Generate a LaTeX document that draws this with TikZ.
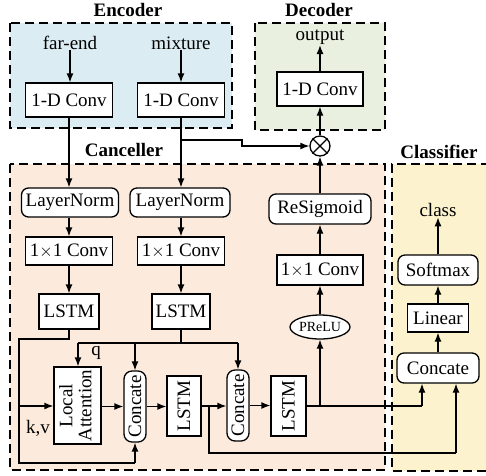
\documentclass[tikz,border=0pt]{standalone}
\usepackage{fontspec}
\setmainfont{Liberation Serif}
\usepackage{graphicx}
\usetikzlibrary{arrows.meta,shapes.geometric}
\definecolor{encfill}{RGB}{219,236,242}
\definecolor{decfill}{RGB}{233,240,223}
\definecolor{canfill}{RGB}{252,235,221}
\definecolor{clsfill}{RGB}{252,242,206}
\begin{document}
\begin{tikzpicture}[x=1pt,y=-1pt,
  font=\fontsize{19}{22}\selectfont, line width=1.3pt,
  >={Latex[length=9pt,width=7pt]},
  box/.style={draw,fill=white,inner sep=0pt,line width=1.3pt},
  rbox/.style={box,rounded corners=7pt},
  txt/.style={inner sep=0pt},
  ttl/.style={inner sep=0pt,font=\fontsize{19}{22}\selectfont\bfseries},
  region/.style={draw,line width=1.6pt,dash pattern=on 9pt off 5pt}]
\useasboundingbox (0,0) rectangle (486,475);
% regions
\draw[region,fill=encfill] (10,23) rectangle (232,128);
\draw[region,fill=decfill] (255,23) rectangle (385,130);
\draw[region,fill=canfill] (10,164) rectangle (385,470);
\fill[clsfill] (392,164) rectangle (486,471);
\draw[region] (490,164) -- (392,164) -- (392,471) -- (490,471);
% titles
\node[ttl] (tenc) at (128,10) {Encoder};
\node[ttl] (tdec) at (319,10) {Decoder};
\node[ttl] (tcan) at (124,150) {Canceller};
\node[ttl] (tcls) at (439,152) {Classifier};
% encoder
\node[txt] (far) at (70,43) {far-end};
\node[txt] (mix) at (181,43) {mixture};
\node[box,minimum width=87pt,minimum height=34pt] (conv1) at (69,100) {1-D Conv};
\node[box,minimum width=87pt,minimum height=34pt] (conv2) at (181,100) {1-D Conv};
% decoder
\node[txt] (out) at (320,37) {output};
\node[box,minimum width=86pt,minimum height=34pt] (dconv) at (320,89) {1-D Conv};
\node[circle,draw,fill=white,minimum size=20pt,inner sep=0pt] (ot) at (320,146) {};
\draw (ot.north east) -- (ot.south west) (ot.north west) -- (ot.south east);
% canceller
\node[rbox,minimum width=97pt,minimum height=29pt] (ln1) at (70,202.5) {LayerNorm};
\node[rbox,minimum width=100pt,minimum height=29pt] (ln2) at (180,202.5) {LayerNorm};
\node[box,minimum width=87pt,minimum height=28pt] (c11) at (69,251) {1$\times$1 Conv};
\node[box,minimum width=87pt,minimum height=28pt] (c12) at (181,251) {1$\times$1 Conv};
\node[box,minimum width=60pt,minimum height=35pt] (lstm1) at (69,311.5) {LSTM};
\node[box,minimum width=58pt,minimum height=35pt] (lstm2) at (181,311.5) {LSTM};
\node[box,minimum width=47pt,minimum height=77pt] (la) at (77.5,405.5)
  {\rotatebox{90}{\begin{tabular}{@{}c@{}}Local\\[-3pt]Attention\end{tabular}}};
\node[rbox,minimum width=22pt,minimum height=71pt,rounded corners=8pt] (cc1) at (135,406.5) {\rotatebox{90}{Concate}};
\node[box,minimum width=34pt,minimum height=60pt] (lstm3) at (184,406) {\rotatebox{90}{LSTM}};
\node[rbox,minimum width=22pt,minimum height=71pt,rounded corners=8pt] (cc2) at (238,405.5) {\rotatebox{90}{Concate}};
\node[box,minimum width=35pt,minimum height=60pt] (lstm4) at (288.5,406) {\rotatebox{90}{LSTM}};
\node[ellipse,draw,fill=white,inner sep=0pt,minimum width=60pt,minimum height=24pt,font=\fontsize{14}{16}\selectfont] (prelu) at (320,327) {PReLU};
\node[box,minimum width=86pt,minimum height=30pt] (c13) at (320,270) {1$\times$1 Conv};
\node[rbox,minimum width=102pt,minimum height=30pt] (resig) at (320,209) {ReSigmoid};
\node[txt] (kv) at (38,428) {k,v};
\node[txt] (q) at (96,353) {q};
% classifier
\node[txt] (cls) at (438,210) {class};
\node[rbox,minimum width=80pt,minimum height=30pt] (soft) at (438,270) {Softmax};
\node[box,minimum width=61pt,minimum height=28pt] (lin) at (438,318) {Linear};
\node[rbox,minimum width=82pt,minimum height=30pt] (concl) at (438,368) {Concate};
% coordinates
\coordinate (kvtop) at (19,339);
\coordinate (kvmid) at (19,406);
\coordinate (kvbot) at (19,463);
\coordinate (qbus) at (181,343);
\coordinate (skip) at (209,406);
\coordinate (skipbot) at (209,453);
\coordinate (outj) at (320,406);
\coordinate (mixj) at (181,140);
% connectors
\draw[->] (far) -- (far |- conv1.north);
\draw[->] (mix) -- (mix |- conv2.north);
\draw[->] (conv1) -- (ln1.north -| conv1);
\draw[->] (conv2) -- (ln2.north -| conv2);
\draw[->] (mixj) -- (242,140) -- (242,146) -- (ot.west);
\draw[->] (ln1.south -| c11) -- (c11.north);
\draw[->] (ln2.south -| c12) -- (c12.north);
\draw[->] (c11) -- (lstm1);
\draw[->] (c12) -- (lstm2);
\draw (lstm1.south) -- (lstm1.south |- kvtop) -- (kvtop) -- (kvbot) -- (kvbot -| cc1.south);
\draw[->] (kvbot -| cc1.south) -- (cc1.south);
\draw[->] (kvmid) -- (la.west |- kvmid);
\draw (lstm2.south) -- (qbus);
\draw[->] (78,343) -- (78,343 |- la.north) ;
\draw (78,343) -- (238,343);
\draw[->] (cc1.north |- qbus) -- (cc1.north);
\draw[->] (cc2.north |- qbus) -- (cc2.north);
\draw[->] (la.east |- cc1.west) -- (cc1.west);
\draw[->] (cc1.east) -- (lstm3.west |- cc1.east);
\draw[->] (lstm3.east) -- (cc2.west |- lstm3.east);
\draw[->] (cc2.east) -- (lstm4.west |- cc2.east);
\draw (skip) -- (skipbot) -- (456,453);
\draw[->] (456,453) -- (456,453 |- concl.south);
\draw (lstm4.east) -- (422,406);
\draw[->] (422,406) -- (422,406 |- concl.south);
\draw[->] (outj) -- (prelu.south);
\draw[->] (prelu) -- (c13);
\draw[->] (c13) -- (resig);
\draw[->] (resig) -- (ot.south);
\draw[->] (ot.north) -- (dconv.south);
\draw[->] (dconv) -- (out);
\draw[->] (concl) -- (lin);
\draw[->] (lin) -- (soft);
\draw[->] (soft) -- (cls);
\end{tikzpicture}
\end{document}
